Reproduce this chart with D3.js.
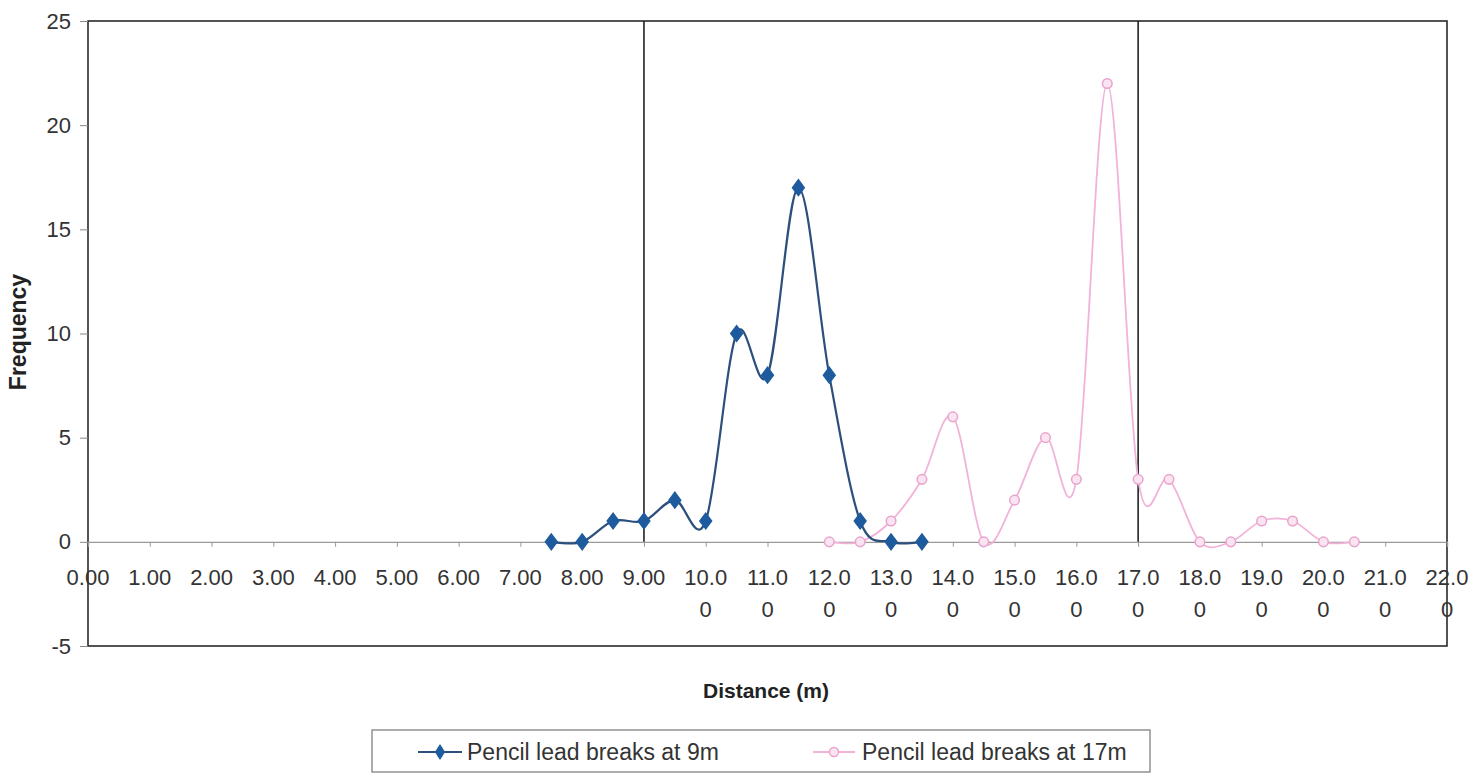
<!DOCTYPE html>
<html>
<head>
<meta charset="utf-8">
<script src="https://cdn.jsdelivr.net/npm/d3@7"></script>
<style>
  html, body { margin: 0; padding: 0; background: #fff; }
  svg { display: block; font-family: "Liberation Sans", Arial, sans-serif; }
</style>
</head>
<body>
<svg id="chart" width="1475" height="775"></svg>
<script>
// Pencil lead break sources at 9 m
const distances9 = [7.5, 8.0, 8.5, 9.0, 9.5, 10.0, 10.5, 11.0, 11.5, 12.0, 12.5, 13.0, 13.5];
const counts9    = [0,   0,   1,   1,   2,   1,    10,   8,    17,   8,    1,    0,    0];

// Pencil lead break sources at 17 m
const distances17 = [12.0, 12.5, 13.0, 13.5, 14.0, 14.5, 15.0, 15.5, 16.0, 16.5, 17.0, 17.5, 18.0, 18.5, 19.0, 19.5, 20.0, 20.5];
const counts17    = [0,    0,    1,    3,    6,    0,    2,    5,    3,    22,   3,    3,    0,    0,    1,    1,    0,    0];

// Sensor positions marked by vertical lines
const sensorPositions = [9, 17];

// Axis ticks
const xTickValues = d3.range(0, 23, 1);
const yTickValues = [-5, 0, 5, 10, 15, 20, 25];

const seriesNames = ["Pencil lead breaks at 9m", "Pencil lead breaks at 17m"];

const svg = d3.select("#chart");
const plotLeft = 88, plotRight = 1447, plotTop = 21, plotBottom = 646;

const x = d3.scaleLinear().domain([0, 22]).range([plotLeft, plotRight]);
const y = d3.scaleLinear().domain([-5, 25]).range([plotBottom, plotTop]);

const blueLine = "#2c4f7c", blueMark = "#1e5b9e";
const pinkLine = "#f1b3d8", pinkMark = "#e9a3cd", pinkFill = "#fbe4f1";

// Plot area frame
svg.append("rect")
  .attr("x", plotLeft).attr("y", plotTop)
  .attr("width", plotRight - plotLeft).attr("height", plotBottom - plotTop)
  .attr("fill", "#fff").attr("stroke", "#2a2a2a").attr("stroke-width", 1.6);

// Y axis ticks and labels (plain hyphen for negatives)
const yAxis = d3.axisLeft(y).tickValues(yTickValues).tickSize(8).tickFormat(d => String(d));
const gy = svg.append("g").attr("transform", `translate(${plotLeft},0)`).call(yAxis);
gy.select(".domain").remove();
gy.selectAll(".tick line").attr("stroke", "#888");
gy.selectAll(".tick text").attr("font-size", 22).attr("fill", "#333").attr("x", -17);

// X axis along zero
const xAxis = d3.axisBottom(x).tickValues(xTickValues).tickSize(5).tickFormat("");
const gx = svg.append("g").attr("transform", `translate(0,${y(0)})`).call(xAxis);
gx.select(".domain").attr("stroke", "#9a9a9a").attr("stroke-width", 1.4);
gx.selectAll(".tick line").attr("stroke", "#9a9a9a");

// X tick labels, wrapped after four characters
const fmt = d3.format(".2f");
const xl = svg.append("g").attr("font-size", 22).attr("fill", "#333").attr("text-anchor", "middle");
xTickValues.forEach(v => {
  const s = fmt(v);
  const t = xl.append("text").attr("x", x(v)).attr("y", 585);
  if (s.length > 4) {
    t.append("tspan").attr("x", x(v)).text(s.slice(0, 4));
    t.append("tspan").attr("x", x(v)).attr("dy", 32).text(s.slice(4));
  } else {
    t.text(s);
  }
});

// Sensor lines
svg.append("g").selectAll("line").data(sensorPositions).join("line")
  .attr("x1", d => x(d)).attr("x2", d => x(d))
  .attr("y1", y(25)).attr("y2", y(0))
  .attr("stroke", "#222").attr("stroke-width", 1.6);

const line = d3.line().x(d => x(d[0])).y(d => y(d[1])).curve(d3.curveCatmullRom.alpha(0));

const data17 = distances17.map((d, i) => [d, counts17[i]]);
const data9 = distances9.map((d, i) => [d, counts9[i]]);

// 17 m series
svg.append("path").datum(data17).attr("d", line)
  .attr("fill", "none").attr("stroke", pinkLine).attr("stroke-width", 1.8);
svg.append("g").selectAll("circle").data(data17).join("circle")
  .attr("cx", d => x(d[0])).attr("cy", d => y(d[1])).attr("r", 4.8)
  .attr("fill", pinkFill).attr("stroke", pinkMark).attr("stroke-width", 1.5);

// 9 m series
svg.append("path").datum(data9).attr("d", line)
  .attr("fill", "none").attr("stroke", blueLine).attr("stroke-width", 2.2);
const diamond = d3.symbol().type(d3.symbolDiamond).size(75);
svg.append("g").selectAll("path").data(data9).join("path")
  .attr("d", diamond)
  .attr("transform", d => `translate(${x(d[0])},${y(d[1])}) scale(1.3,1)`)
  .attr("fill", blueMark).attr("stroke", blueMark).attr("stroke-width", 1);

// Axis titles
svg.append("text").attr("x", 766).attr("y", 698).attr("text-anchor", "middle")
  .attr("font-size", 21).attr("font-weight", "bold").attr("fill", "#222").text("Distance (m)");
svg.append("text").attr("transform", "translate(26,332) rotate(-90)").attr("text-anchor", "middle")
  .attr("font-size", 23).attr("font-weight", "bold").attr("fill", "#222").text("Frequency");

// Legend
const lg = svg.append("g");
lg.append("rect").attr("x", 372).attr("y", 730).attr("width", 778).attr("height", 42)
  .attr("fill", "#fff").attr("stroke", "#8a8a8a").attr("stroke-width", 1.4);
const ly = 752;
lg.append("line").attr("x1", 418).attr("x2", 462).attr("y1", ly).attr("y2", ly)
  .attr("stroke", blueLine).attr("stroke-width", 2.2);
lg.append("path").attr("d", diamond).attr("transform", `translate(440,${ly}) scale(1.1,1)`)
  .attr("fill", blueMark);
lg.append("text").attr("x", 467).attr("y", ly + 8).attr("font-size", 23).attr("fill", "#333").text(seriesNames[0]);
lg.append("line").attr("x1", 813).attr("x2", 855).attr("y1", ly).attr("y2", ly)
  .attr("stroke", pinkLine).attr("stroke-width", 1.8);
lg.append("circle").attr("cx", 834).attr("cy", ly).attr("r", 4.5)
  .attr("fill", pinkFill).attr("stroke", pinkMark).attr("stroke-width", 1.4);
lg.append("text").attr("x", 862).attr("y", ly + 8).attr("font-size", 23).attr("fill", "#333").text(seriesNames[1]);
</script>
</body>
</html>
